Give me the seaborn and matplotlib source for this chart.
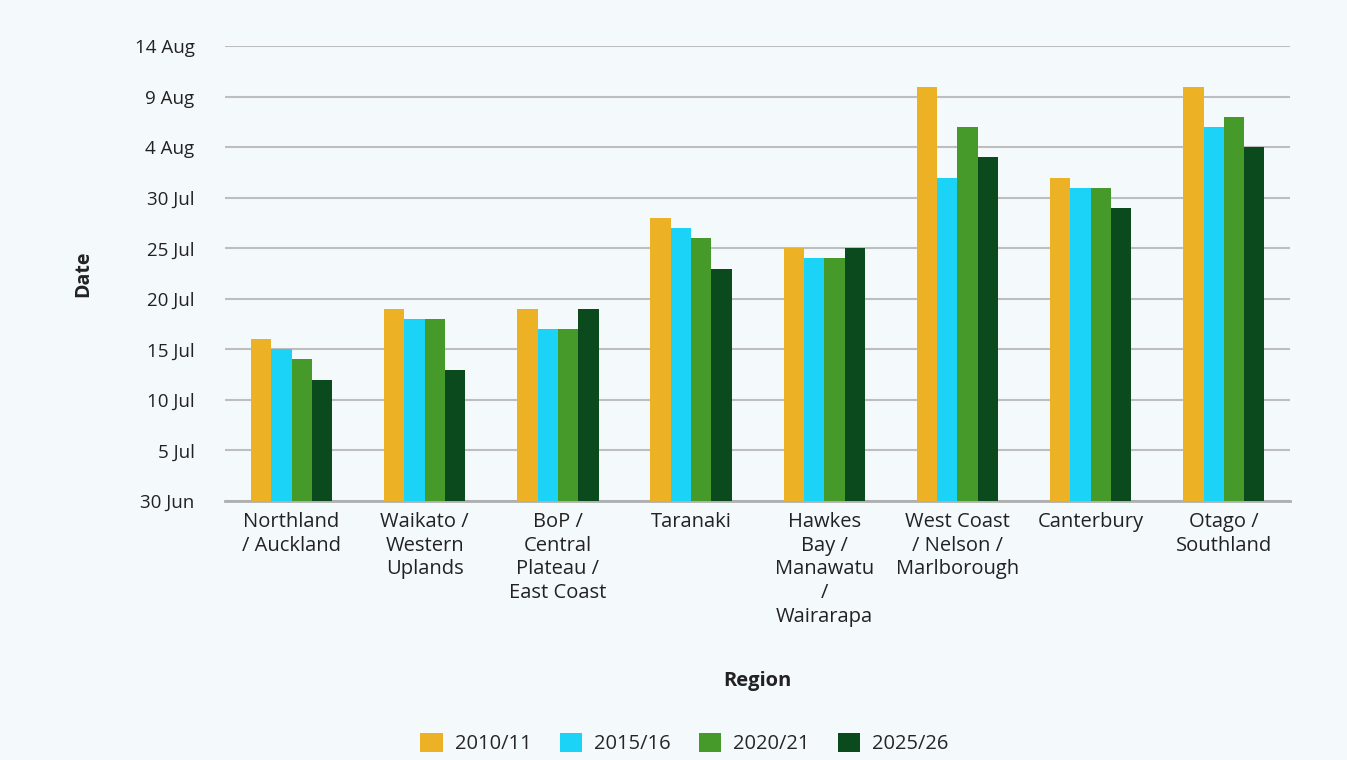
import pandas as pd
import seaborn as sns
import matplotlib.pyplot as plt

# days after 30 Jun
regions = ['Northland\n/ Auckland', 'Waikato /\nWestern\nUplands', 'BoP /\nCentral\nPlateau /\nEast Coast',
           'Taranaki', 'Hawkes\nBay /\nManawatu\n/\nWairarapa', 'West Coast\n/ Nelson /\nMarlborough',
           'Canterbury', 'Otago /\nSouthland']
years = ['2010/11', '2015/16', '2020/21', '2025/26']
days_2010 = [16, 19, 19, 28, 25, 41, 32, 41]
days_2015 = [15, 18, 17, 27, 24, 32, 31, 37]
days_2020 = [14, 18, 17, 26, 24, 37, 31, 38]
days_2025 = [12, 13, 19, 23, 25, 34, 29, 35]
tick_days = [0, 5, 10, 15, 20, 25, 30, 35, 40, 45]
tick_labels = ['30 Jun', '5 Jul', '10 Jul', '15 Jul', '20 Jul', '25 Jul', '30 Jul', '4 Aug', '9 Aug', '14 Aug']
colors = ['#EDB125', '#1AD3F7', '#459A2A', '#0B4A1C']

rows = []
for yr, vals in zip(years, [days_2010, days_2015, days_2020, days_2025]):
    for r, v in zip(regions, vals):
        rows.append({'Region': r, 'Year': yr, 'Days': v})
df = pd.DataFrame(rows)

sns.set_style('white')
plt.rcParams['font.family'] = ['Open Sans', 'DejaVu Sans']
bg = '#F4FAFC'

fig = plt.figure(figsize=(13.47, 7.6), dpi=100, facecolor=bg)
ax = fig.add_axes([0.167, 0.341, 0.791, 0.598])
ax.set_facecolor(bg)

sns.barplot(data=df, x='Region', y='Days', hue='Year', palette=colors,
            width=0.61, gap=0, saturation=1, linewidth=0, ax=ax, zorder=3)

ax.set_ylim(0, 45)
ax.set_xlim(-0.5, 7.5)
ax.set_yticks(tick_days)
ax.set_yticklabels(tick_labels, fontsize=13.5, color='#222222')
ax.tick_params(axis='x', labelsize=14.5, colors='#222222', length=0, pad=8)
ax.tick_params(axis='y', length=0, pad=22)
for lbl in ax.get_xticklabels():
    lbl.set_linespacing(1.25)
ax.yaxis.grid(True, color='#BEBEBE', linewidth=1.5, zorder=0)
for s in ['top', 'right', 'left']:
    ax.spines[s].set_visible(False)
ax.spines['bottom'].set_color('#AFAFAF')
ax.spines['bottom'].set_linewidth(2)

ax.set_xlabel('Region', fontsize=14.5, fontweight='bold', labelpad=32, color='#222222')
ax.set_ylabel('Date', fontsize=14, fontweight='bold', labelpad=30, color='#222222')

handles, labels = ax.get_legend_handles_labels()
ax.get_legend().remove()
fig.legend(handles, labels, loc='center', bbox_to_anchor=(0.508, 0.022), ncol=4, frameon=False,
           fontsize=14.5, handlelength=1.1, handleheight=1.1, columnspacing=1.4, handletextpad=0.6)

fig.savefig('out.png', dpi=100, facecolor=bg)
